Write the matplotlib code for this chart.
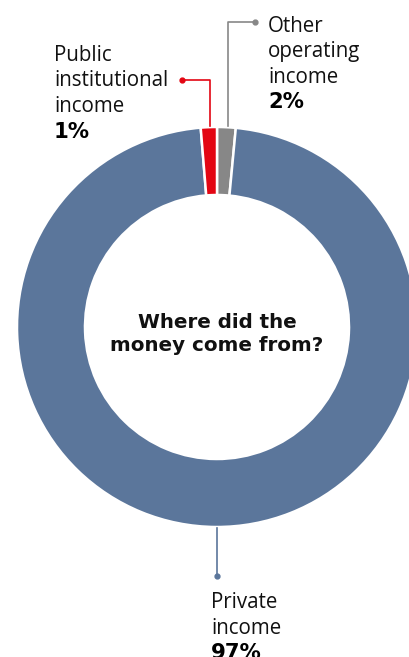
import matplotlib.pyplot as plt

# shares (%) as drawn, clockwise from 12 o'clock
labels = ['Other operating income', 'Private income', 'Public institutional income']
values = [1.5, 97.2, 1.3]
shown = ['2%', '97%', '1%']
colors = ['#878787', '#5b769b', '#e30613']

W, H = 409, 657
fig = plt.figure(figsize=(W / 100, H / 100), dpi=100)
ax = fig.add_axes([0, 0, 1, 1])

def Y(y):
    # image row -> axis y
    return H - y

cx, cy = 217, Y(327)
R = 200
ax.pie(values, colors=colors, startangle=90, counterclock=False,
       center=(cx, cy), radius=R,
       wedgeprops=dict(width=68, edgecolor='white', linewidth=1.8))

ax.set_xlim(0, W)
ax.set_ylim(0, H)
ax.set_aspect('equal')
ax.axis('off')

font = ['Open Sans', 'DejaVu Sans']
fs = 14.8

# leader lines
ax.plot([182, 210, 210], [Y(80), Y(80), Y(126)], color=colors[2], lw=1.2)
ax.plot([182], [Y(80)], 'o', color=colors[2], ms=3.5)
ax.plot([255, 228, 228], [Y(22), Y(22), Y(126)], color=colors[0], lw=1.2)
ax.plot([255], [Y(22)], 'o', color=colors[0], ms=3.5)
ax.plot([217, 217], [Y(528), Y(576)], color=colors[1], lw=1.2)
ax.plot([217], [Y(576)], 'o', color=colors[1], ms=3.5)

def label(x, y, lines, pct):
    for i, t in enumerate(lines):
        ax.text(x, Y(y + 25.5 * i), t, fontsize=fs, family=font,
                color='#111111', va='baseline', ha='left')
    ax.text(x, Y(y + 25.5 * len(lines)), pct, fontsize=fs + 0.5,
            family=['DejaVu Sans'], fontweight='bold', color='#000000',
            va='baseline', ha='left')

label(54, 61, ['Public', 'institutional', 'income'], shown[2])
label(268, 32, ['Other', 'operating', 'income'], shown[0])
label(211, 608, ['Private', 'income'], shown[1])

ax.text(cx, Y(334), 'Where did the\nmoney come from?', fontsize=14.3,
        family=['DejaVu Sans'], fontweight='bold',
        ha='center', va='center', linespacing=1.3, color='#111111')

fig.savefig('out.png', dpi=100)
